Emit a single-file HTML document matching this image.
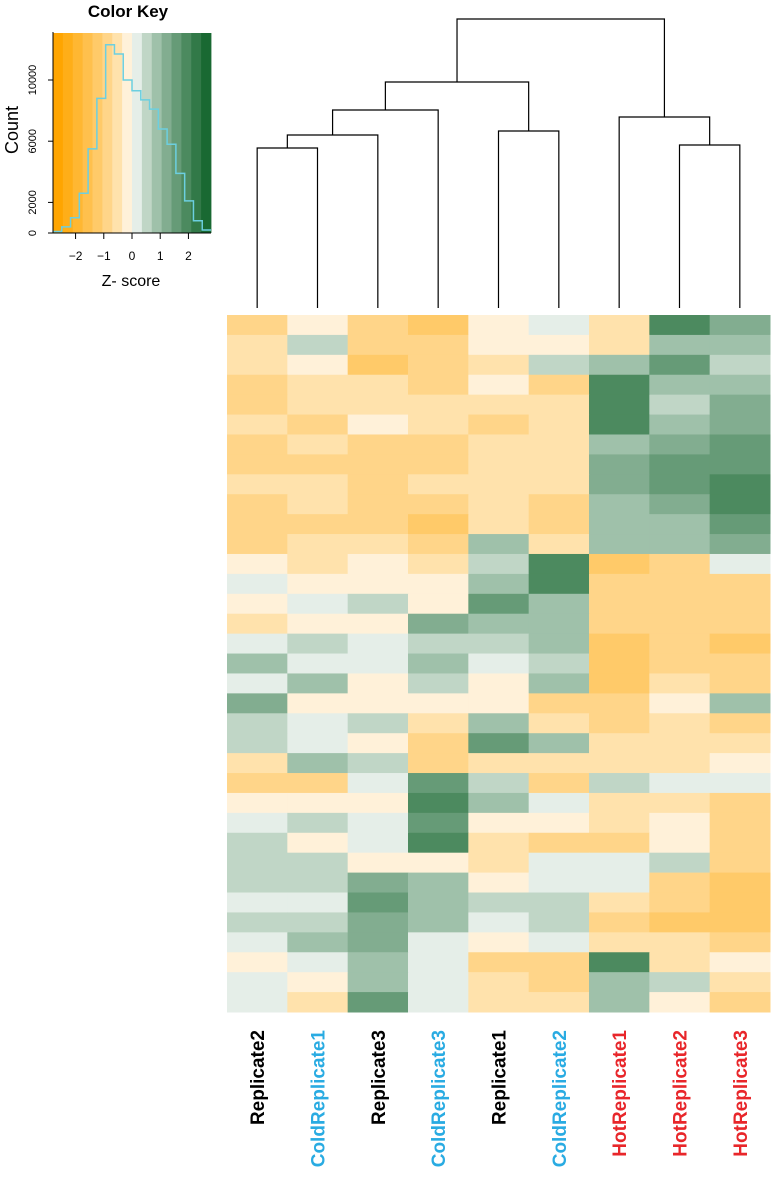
<!DOCTYPE html>
<html><head><meta charset="utf-8"><style>
body{margin:0;background:#fff;font-family:"Liberation Sans",Arial,sans-serif}
svg{display:block}
</style></head><body>
<svg id="chart" width="772" height="1201" viewBox="0 0 772 1201" xmlns="http://www.w3.org/2000/svg"></svg>
<script>
const columns=["Replicate2","ColdReplicate1","Replicate3","ColdReplicate3","Replicate1","ColdReplicate2","HotReplicate1","HotReplicate2","HotReplicate3"];
const columnGroups=["ctrl","cold","ctrl","cold","ctrl","cold","hot","hot","hot"];
const rowBands=[
[-0.7,-0.3,-0.8,-1.2,-0.3,0.3,-0.6,1.8,1.2],
[-0.6,0.6,-0.9,-0.9,-0.3,-0.2,-0.4,0.9,0.8],
[-0.5,-0.3,-1.2,-0.7,-0.5,0.4,0.8,1.5,0.5],
[-0.7,-0.5,-0.4,-1.0,-0.3,-0.7,1.8,0.9,0.9],
[-0.7,-0.6,-0.6,-0.4,-0.6,-0.6,1.8,0.5,1.2],
[-0.6,-0.8,-0.3,-0.6,-0.8,-0.6,1.9,0.8,1.3],
[-0.7,-0.6,-0.7,-0.9,-0.4,-0.5,0.9,1.3,1.7],
[-0.8,-0.7,-0.8,-0.8,-0.5,-0.4,1.2,1.6,1.5],
[-0.6,-0.5,-0.7,-0.5,-0.6,-0.5,1.3,1.5,1.8],
[-0.7,-0.5,-0.7,-0.8,-0.6,-0.9,0.7,1.3,1.9],
[-0.9,-0.7,-0.8,-1.2,-0.6,-0.8,0.8,0.9,1.6],
[-0.7,-0.6,-0.6,-1.0,0.7,-0.4,0.8,0.8,1.1],
[-0.1,-0.4,-0.3,-0.5,0.5,1.8,-1.2,-0.9,0.2],
[0,-0.1,-0.2,-0.2,0.8,1.9,-1.0,-0.9,-0.9],
[-0.2,0.2,0.5,-0.1,1.5,1.0,-1.0,-0.9,-1.0],
[-0.4,-0.2,-0.1,1.2,1.0,1.0,-1.0,-1.0,-1.0],
[0.3,0.5,0.2,0.6,0.5,0.9,-1.3,-0.9,-1.1],
[1.0,0.2,0.2,0.9,0.1,0.5,-1.2,-0.9,-0.9],
[0.2,0.8,-0.3,0.6,-0.3,0.8,-1.3,-0.6,-0.8],
[1.3,-0.3,-0.3,-0.3,-0.2,-0.7,-0.8,-0.3,0.7],
[0.4,0.2,0.5,-0.5,0.8,-0.4,-0.7,-0.5,-0.8],
[0.4,0.3,-0.3,-1.0,1.5,1.0,-0.6,-0.6,-0.6],
[-0.5,1.0,0.4,-0.7,-0.5,-0.5,-0.6,-0.6,-0.3],
[-0.8,-0.8,0.3,1.5,0.4,-0.8,0.5,0.2,0.3],
[-0.2,-0.3,-0.1,1.8,1.0,0.2,-0.5,-0.5,-0.8],
[0.3,0.4,0.3,1.6,-0.3,-0.3,-0.6,-0.3,-1.0],
[0.5,-0.3,0.2,2.0,-0.4,-0.7,-0.7,-0.3,-0.9],
[0.5,0.6,-0.2,-0.2,-0.4,0,0,0.6,-1.0],
[0.4,0.4,1.2,0.8,-0.3,0.2,0.2,-1.0,-1.3],
[0.3,0.2,1.5,0.8,0.5,0.4,-0.6,-0.8,-1.1],
[0.5,0.6,1.3,0.7,0,0.6,-0.8,-1.2,-1.2],
[0.3,0.8,1.2,0.3,-0.3,0,-0.6,-0.6,-0.9],
[-0.2,0.1,0.9,0.3,-0.8,-0.9,1.8,-0.5,-0.3],
[0.2,-0.3,0.8,0.1,-0.6,-1.0,1.0,0.6,-0.5],
[0.3,-0.4,1.5,0.3,-0.6,-0.6,0.8,-0.3,-1.0]
];
const histCounts=[100,400,1000,2600,5500,8800,12300,11700,10000,9300,8700,8100,6800,5800,3900,2100,800,200];
const countTicks=[0,2000,6000,10000];
const zTicks=[-2,-1,0,1,2];
const merges=[[0,1,148],[9,2,135],[10,3,110],[4,5,131],[11,12,82],[7,8,145],[6,14,117],[13,15,19]];

const NS="http://www.w3.org/2000/svg";
const svg=document.getElementById('chart');
function mk(t,a,p){const e=document.createElementNS(NS,t);for(const k in a)e.setAttribute(k,a[k]);(p||svg).appendChild(e);return e;}

const zMin=-2.8,zMax=2.8,nCol=16;
function colorFor(v){
  let i=Math.floor((v-zMin)/(zMax-zMin)*nCol);i=Math.max(0,Math.min(nCol-1,i));
  const mid=(nCol-1)/2;
  if(i<mid){const t=Math.pow((mid-i)/mid,0.7);return `rgb(255,${Math.round(255-90*t)},${Math.round(255-255*t)})`;}
  const t=Math.pow((i-mid)/mid,0.8);return `rgb(${Math.round(255-230*t)},${Math.round(255-150*t)},${Math.round(255-205*t)})`;
}

const hx0=227,hx1=770,hy0=315,hy1=1012;
const cw=(hx1-hx0)/columns.length, rh=(hy1-hy0)/rowBands.length;
const xCenter=j=>hx0+cw*(j+0.5);
const gH=mk('g',{});  
rowBands.forEach((row,i)=>row.forEach((v,j)=>{
  const r=mk('rect',{x:hx0+cw*j,y:hy0+rh*i,width:cw+0.5,height:rh+0.5,fill:colorFor(v)},gH);
  
  
}));

const gColors={ctrl:'#000',cold:'#29abe2',hot:'#e8262a'};
columns.forEach((c,j)=>{
  const x=xCenter(j)+7,y=1030;
  const t=mk('text',{x:x,y:y,transform:`rotate(-90 ${x} ${y})`,'text-anchor':'end','font-size':'19','font-weight':'bold',fill:gColors[columnGroups[j]]});
  t.textContent=c;
  
  
});

const leafY=308;
const nodes=columns.map((c,j)=>({x:xCenter(j),y:leafY}));
const gD=mk('g',{fill:'none',stroke:'#000','stroke-width':'1.2'});  
merges.forEach(m=>{
  const a=nodes[m[0]],b=nodes[m[1]],h=m[2];
  const p=mk('path',{d:`M${a.x},${a.y}V${h}H${b.x}V${b.y}`},gD);
  
  
  nodes.push({x:(a.x+b.x)/2,y:h});
});

const kx0=53,kx1=211,ky0=33,ky1=233;
const zx=v=>kx0+(v-zMin)/(zMax-zMin)*(kx1-kx0);
const cy=v=>ky1-v*(ky1-80)/10000;
const gK=mk('g',{});  
for(let i=0;i<nCol;i++){
  const v=zMin+(i+0.5)*(zMax-zMin)/nCol;
  const r=mk('rect',{x:zx(zMin+i*(zMax-zMin)/nCol),y:ky0,width:(kx1-kx0)/nCol+0.4,height:ky1-ky0,fill:colorFor(v)},gK);
  
  
}
let d='',bw=(zMax-zMin)/histCounts.length;
histCounts.forEach((c,i)=>{const xa=zx(zMin+i*bw),xb=zx(zMin+(i+1)*bw);d+=(i?'L':'M')+xa+','+cy(c)+'L'+xb+','+cy(c);});
const hp=mk('path',{d:d,fill:'none',stroke:'#6ccfe0','stroke-width':'1.5'},gK);


mk('path',{d:`M${kx0},${ky0-1}V${ky1}H${kx1}`,fill:'none',stroke:'#000','stroke-width':'1'},gK);
countTicks.forEach(c=>{
  const y=cy(c);
  mk('line',{x1:kx0-5,x2:kx0,y1:y,y2:y,stroke:'#000'},gK);
  const t=mk('text',{x:36,y:y,transform:`rotate(-90 36 ${y})`,'text-anchor':'middle','font-size':'11'},gK);
  t.textContent=c;
  
  
});
zTicks.forEach(z=>{
  const x=zx(z);
  mk('line',{x1:x,x2:x,y1:ky1,y2:ky1+6,stroke:'#000'},gK);
  const t=mk('text',{x:x,y:260,'text-anchor':'middle','font-size':'12'},gK);
  t.textContent=z<0?'\u2212'+(-z):String(z);
  
  
});
let t=mk('text',{x:128,y:17,'text-anchor':'middle','font-size':'17','font-weight':'bold'});
t.textContent='Color Key';


t=mk('text',{x:131,y:286,'text-anchor':'middle','font-size':'16'});
t.textContent='Z- score';


t=mk('text',{x:18,y:130,transform:'rotate(-90 18 130)','text-anchor':'middle','font-size':'18'});
t.textContent='Count';


</script>
</body></html>
